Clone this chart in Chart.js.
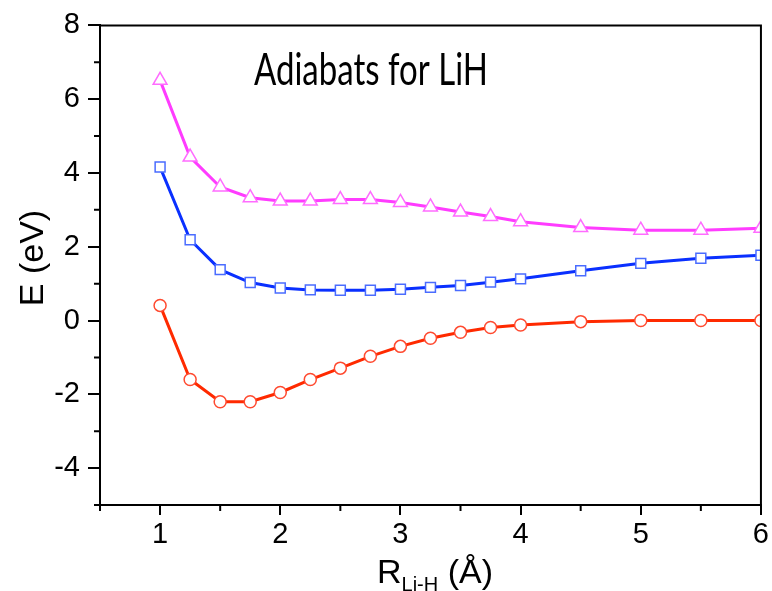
<!DOCTYPE html>
<html lang="en">
<head>
<meta charset="UTF-8">
<title>Adiabats for LiH</title>
<style>
  html, body { margin: 0; padding: 0; background: #fff; }
  #wrap { width: 772px; height: 591px; }
</style>
</head>
<body>
<div id="wrap"><canvas id="pes"></canvas></div>
<script src="https://cdn.jsdelivr.net/npm/chart.js@4/dist/chart.umd.min.js"></script>
<script>
// Li-H separation (Angstrom) and the three lowest adiabatic energies (eV)
var rLiH = [1, 1.25, 1.5, 1.75, 2, 2.25, 2.5, 2.75, 3, 3.25, 3.5, 3.75, 4, 4.5, 5, 5.5, 6];
var ground = [0.41, -1.6, -2.2, -2.2, -1.95, -1.6, -1.29, -0.97, -0.7, -0.48, -0.32, -0.19, -0.12, -0.03, 0, 0, 0];
var first = [4.16, 2.19, 1.38, 1.03, 0.88, 0.83, 0.82, 0.82, 0.85, 0.9, 0.95, 1.04, 1.13, 1.35, 1.55, 1.69, 1.77];
var second = [6.51, 4.43, 3.62, 3.33, 3.24, 3.24, 3.28, 3.28, 3.2, 3.08, 2.94, 2.82, 2.68, 2.52, 2.45, 2.45, 2.5];

var xMajor = [1, 2, 3, 4, 5, 6];
var xMinor = [0.5, 1.5, 2.5, 3.5, 4.5, 5.5];
var yMajor = [-4, -2, 0, 2, 4, 6, 8];
var yMinor = [-5, -3, -1, 1, 3, 5, 7];

var ARIAL = "'Liberation Sans', Arial, sans-serif";

function pts(ys) {
  return rLiH.map(function (r, i) { return { x: r, y: ys[i] }; });
}

function series(ys, line, mark, shape, radius) {
  return {
    data: pts(ys),
    borderColor: line,
    borderWidth: 3,
    pointStyle: shape,
    pointRadius: radius,
    pointBackgroundColor: '#fff',
    pointBorderColor: mark,
    pointBorderWidth: 1.5,
    tension: 0,
    clip: 0
  };
}

// frame, minor ticks, in-plot title and the axis titles
var decor = {
  id: 'decor',
  afterDraw: function (chart) {
    var ctx = chart.ctx, a = chart.chartArea;
    var xs = chart.scales.x, ys = chart.scales.y;
    ctx.save();
    ctx.strokeStyle = '#000';
    ctx.lineWidth = 2;
    ctx.beginPath();
    ctx.moveTo(a.left - 1, a.top);
    ctx.lineTo(a.right, a.top);
    ctx.lineTo(a.right, a.bottom + 1);
    ctx.stroke();

    ctx.beginPath();
    xMinor.forEach(function (v) {
      var px = xs.getPixelForValue(v);
      ctx.moveTo(px, a.bottom);
      ctx.lineTo(px, a.bottom + 6);
    });
    yMinor.forEach(function (v) {
      var py = ys.getPixelForValue(v);
      ctx.moveTo(a.left, py);
      ctx.lineTo(a.left - 6, py);
    });
    ctx.stroke();

    // plot title, narrowed a little
    ctx.fillStyle = '#000';
    ctx.font = "45px Lato, 'Open Sans', sans-serif";
    ctx.textAlign = 'center';
    ctx.textBaseline = 'alphabetic';
    var tw = ctx.measureText('Adiabats for LiH').width;
    ctx.translate(371, 85);
    ctx.scale(234 / tw, 1);
    ctx.fillText('Adiabats for LiH', 0, 0);
    ctx.setTransform(1, 0, 0, 1, 0, 0);

    // y title
    ctx.font = '34px ' + ARIAL;
    ctx.translate(43, 258);
    ctx.rotate(-Math.PI / 2);
    ctx.fillText('E (eV)', 0, 0);
    ctx.setTransform(1, 0, 0, 1, 0, 0);

    // x title with subscript
    var big = '34px ' + ARIAL, small = '20px ' + ARIAL;
    ctx.font = big;
    var wR = ctx.measureText('R').width;
    ctx.font = small;
    var wSub = ctx.measureText('Li-H').width;
    var x0 = 377;
    var base = 583;
    ctx.textAlign = 'left';
    ctx.font = big;
    ctx.fillText('R', x0, base);
    ctx.font = small;
    ctx.fillText('Li-H', x0 + wR, base + 8);
    ctx.font = big;
    ctx.fillText(' (\u00C5)', x0 + wR + wSub, base);
    ctx.restore();
  }
};

new Chart(document.getElementById('pes'), {
  type: 'line',
  data: {
    datasets: [
      series(second, '#ff3cff', '#ff6cff', 'triangle', 8),
      series(first, '#0a30ff', '#4a6cff', 'rect', 7),
      series(ground, '#ff2a00', '#ff4a30', 'circle', 6)
    ]
  },
  options: {
    responsive: true,
    maintainAspectRatio: false,
    animation: false,
    layout: { padding: { top: 24, right: 10, left: 0, bottom: 0 } },
    plugins: { legend: { display: false }, tooltip: { enabled: false } },
    scales: {
      x: {
        type: 'linear',
        min: 0.5,
        max: 6,
        afterBuildTicks: function (s) { s.ticks = xMajor.map(function (v) { return { value: v }; }); },
        afterFit: function (s) { s.height = 86; },
        grid: { drawOnChartArea: false, drawTicks: true, tickLength: 10, color: '#000', lineWidth: 2 },
        border: { display: true, color: '#000', width: 2 },
        ticks: { color: '#000', font: { size: 29, family: ARIAL }, padding: 3, maxRotation: 0 }
      },
      y: {
        type: 'linear',
        min: -5,
        max: 8,
        afterBuildTicks: function (s) { s.ticks = yMajor.map(function (v) { return { value: v }; }); },
        afterFit: function (s) { s.width = 100; },
        grid: { drawOnChartArea: false, drawTicks: true, tickLength: 12, color: '#000', lineWidth: 2 },
        border: { display: true, color: '#000', width: 2 },
        ticks: { color: '#000', font: { size: 29, family: ARIAL }, padding: 8 }
      }
    }
  },
  plugins: [decor]
});
</script>
</body>
</html>
